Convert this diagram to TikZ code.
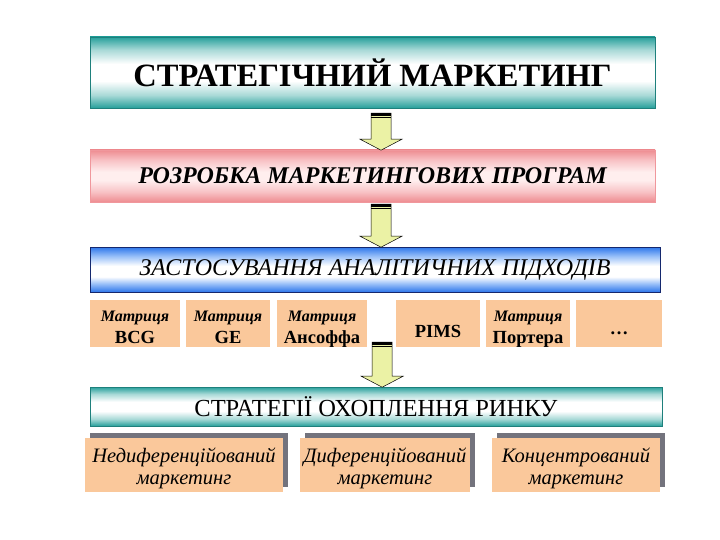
\documentclass[tikz,border=0pt]{standalone}
\usepackage{fontspec}
\setmainfont{Liberation Serif}
\usepackage{tikz}
\usetikzlibrary{calc,positioning,shadows}

\definecolor{tealc}{RGB}{38,160,155}
\colorlet{teallt}{tealc!40!white}
\definecolor{pinkc}{RGB}{238,140,145}
\definecolor{pinklt}{RGB}{248,195,198}
\definecolor{pinkwh}{RGB}{255,238,238}
\definecolor{bluec}{RGB}{45,118,235}
\definecolor{bluelt}{RGB}{150,190,248}
\definecolor{navyc}{RGB}{20,40,110}
\definecolor{tanc}{RGB}{250,200,155}
\definecolor{shadowc}{RGB}{115,115,125}
\definecolor{arrowc}{RGB}{235,242,165}

\pgfdeclareverticalshading{tealbar}{100bp}{color(0bp)=(tealc); color(25bp)=(tealc); color(34bp)=(teallt); color(44bp)=(white); color(56bp)=(white); color(66bp)=(teallt); color(75bp)=(tealc); color(100bp)=(tealc)}
\pgfdeclareverticalshading{pinkbar}{100bp}{color(0bp)=(pinkc); color(25bp)=(pinkc); color(35bp)=(pinklt); color(46bp)=(pinkwh); color(54bp)=(pinkwh); color(65bp)=(pinklt); color(75bp)=(pinkc); color(100bp)=(pinkc)}
\pgfdeclareverticalshading{bluebar}{100bp}{color(0bp)=(bluec); color(25bp)=(bluec); color(34bp)=(bluelt); color(42bp)=(white); color(54bp)=(white); color(65bp)=(bluelt); color(75bp)=(bluec); color(100bp)=(bluec)}

\tikzset{
  bar/.style={inner sep=0pt, minimum width=565pt},
  tealbar/.style={bar, shading=tealbar, draw=tealc!80!black, line width=0.4pt},
  pinkbar/.style={bar, shading=pinkbar, draw=pinkc!90!white, line width=0.4pt},
  bluebar/.style={bar, shading=bluebar, draw=navyc, line width=0.8pt},
  method/.style={fill=tanc, inner sep=0pt, minimum height=47pt, align=center, text depth=0pt, text height=39pt,
    font=\fontsize{16}{22}\selectfont},
  strategy/.style={fill=tanc, inner sep=0pt, minimum height=54pt, align=center, text depth=0pt, text height=38pt,
    font=\itshape\fontsize{20.5}{22}\selectfont,
    general shadow={fill=shadowc, shadow xshift=5pt, shadow yshift=5pt}},
  pics/blockarrow/.style={code={
    \draw[fill=arrowc, line width=0.5pt] (-10,0) -- (-10,#1-11) -- (-21,#1-11) -- (0,#1) -- (21,#1-11) -- (10,#1-11) -- (10,0) -- cycle;
    \fill (-10,0) rectangle (10,2.6);
    \fill (-10,3.6) rectangle (10,4.6);
  }}
}
\newcommand{\matr}[1]{{\bfseries\itshape Матриця}\\{\bfseries\fontsize{18.5}{22}\selectfont #1}}

\begin{document}
\begin{tikzpicture}[x=1pt,y=-1pt]
\useasboundingbox[fill=white] (0,0) rectangle (720,540);

% top levels
\node[tealbar, minimum height=71pt, font=\bfseries\fontsize{32.5}{35}\selectfont] (strat) at (372.5,72.5) {СТРАТЕГІЧНИЙ МАРКЕТИНГ};
\node[pinkbar, minimum height=52pt, font=\bfseries\itshape\fontsize{24}{27}\selectfont] (prog) at (372.5,176) {РОЗРОБКА МАРКЕТИНГОВИХ ПРОГРАМ};
\node[bluebar, minimum width=570pt, minimum height=45pt, font=\itshape\fontsize{24}{27}\selectfont] (appr) at (375,269.5) {ЗАСТОСУВАННЯ АНАЛІТИЧНИХ ПІДХОДІВ};

% analytic methods
\node[method, minimum width=90pt] (bcg) at (135,323.5) {\matr{BCG}};
\node[method, minimum width=84pt] (ge) at (228,323.5) {\matr{GE}};
\node[method, minimum width=90pt] (ans) at (322,323.5) {\matr{Ансоффа}};
\node[method, minimum width=84pt, text height=27pt, font=\bfseries\fontsize{18.5}{22}\selectfont] (pims) at (438,323.5) {PIMS};
\node[method, minimum width=84pt] (port) at (528,323.5) {\matr{Портера}};
\node[method, minimum width=86pt, text height=21pt, font=\bfseries\fontsize{18.5}{22}\selectfont] (etc) at (619,323.5) {\dots};

% market coverage
\node[tealbar, minimum width=572pt, minimum height=39pt, font=\fontsize{24.5}{27}\selectfont] (cover) at (376,406.5) {СТРАТЕГІЇ ОХОПЛЕННЯ РИНКУ};
\node[strategy, minimum width=198pt] (undiff) at (184,465) {Недиференційований\\маркетинг};
\node[strategy, minimum width=170pt] (diff) at (385,465) {Диференційований\\маркетинг};
\node[strategy, minimum width=168pt] (conc) at (576,465) {Концентрований\\маркетинг};

% arrows
\pic at ($(strat.south)+(8.5,5)$) {blockarrow=37};
\pic at ($(prog.south)+(8.5,2)$) {blockarrow=43};
\pic at ($(ans.south east)+(15,-5)$) {blockarrow=45};
\end{tikzpicture}
\end{document}
